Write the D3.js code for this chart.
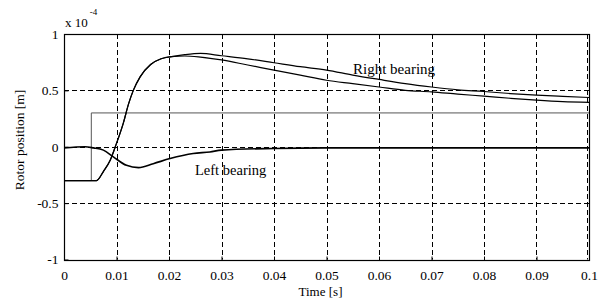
<!DOCTYPE html>
<html>
<head>
<meta charset="utf-8">
<script src="https://cdn.jsdelivr.net/npm/d3@7"></script>
<style>
  body { margin: 0; background: #fff; }
  svg text { font-family: "Liberation Serif", "Times New Roman", serif; fill: #000; }
</style>
</head>
<body>
<div id="chart"></div>
<script>
// time samples [s] and rotor positions [x 1e-4 m]
const rightTime = [0, 0.005, 0.0062, 0.0075, 0.0088, 0.010, 0.0113, 0.0123, 0.0132, 0.0145, 0.0165, 0.0185, 0.0205,
  0.023, 0.026, 0.03, 0.035, 0.04, 0.045, 0.05, 0.055, 0.06, 0.065, 0.07, 0.075, 0.08, 0.085, 0.09, 0.095, 0.1];
const rightUpper = [-0.3, -0.3, -0.3, -0.22, -0.12, 0.03, 0.21, 0.38, 0.50, 0.62, 0.73, 0.78, 0.80,
  0.817, 0.828, 0.807, 0.78, 0.745, 0.71, 0.68, 0.636, 0.597, 0.56, 0.53, 0.505, 0.49, 0.472, 0.458, 0.447, 0.437];
const rightLower = [-0.3, -0.3, -0.3, -0.22, -0.12, 0.03, 0.21, 0.38, 0.50, 0.62, 0.73, 0.78, 0.80,
  0.805, 0.795, 0.77, 0.725, 0.68, 0.635, 0.59, 0.56, 0.53, 0.50, 0.487, 0.467, 0.449, 0.43, 0.413, 0.40, 0.394];

const leftTime = [0, 0.004, 0.0056, 0.0075, 0.0094, 0.0119, 0.0142, 0.017, 0.0202, 0.0246, 0.0278, 0.03, 0.04, 0.05, 0.07, 0.1];
const leftPos = [-0.01, 0.0, -0.01, -0.03, -0.09, -0.165, -0.185, -0.15, -0.105, -0.06, -0.046, -0.03, -0.015, -0.01, -0.01, -0.01];

const stepTime = [0, 0.0052, 0.0052, 0.1];
const stepPos = [-0.3, -0.3, 0.3, 0.3];

const xTicks = [0, 0.01, 0.02, 0.03, 0.04, 0.05, 0.06, 0.07, 0.08, 0.09, 0.1];
const yTicks = [-1, -0.5, 0, 0.5, 1];

const width = 607, height = 304;
const margin = { left: 64, right: 18, top: 34, bottom: 44.5 };

const svg = d3.select("#chart").append("svg")
  .attr("width", width)
  .attr("height", height);

const x = d3.scaleLinear().domain([0, 0.1]).range([margin.left, width - margin.right]);
const y = d3.scaleLinear().domain([-1, 1]).range([height - margin.bottom, margin.top]);
const px = v => Math.round(v) + 0.5;

// grid lines (drawn at every tick, like matlab)
const grid = svg.append("g")
  .attr("stroke", "#000")
  .attr("stroke-width", 1)
  .attr("stroke-dasharray", "5,3");
grid.selectAll(".gx")
  .data(xTicks.slice(1))
  .join("line")
  .attr("x1", d => px(x(d)) - (d === 0.1 ? 2 : 0)).attr("x2", d => px(x(d)) - (d === 0.1 ? 2 : 0))
  .attr("y1", y(1)).attr("y2", y(-1));
grid.selectAll(".gy")
  .data(yTicks.slice(1))
  .join("line")
  .attr("y1", d => px(y(d))).attr("y2", d => px(y(d)))
  .attr("x1", x(0)).attr("x2", x(0.1));

// series
const line = d3.line().x(d => x(d[0])).y(d => y(d[1]));
const smooth = d3.line().x(d => x(d[0])).y(d => y(d[1])).curve(d3.curveMonotoneX);

svg.append("path")
  .attr("d", line(d3.zip(stepTime, stepPos)))
  .attr("fill", "none").attr("stroke", "#555").attr("stroke-width", 1);

svg.append("path")
  .attr("d", smooth(d3.zip(leftTime, leftPos)))
  .attr("fill", "none").attr("stroke", "#000").attr("stroke-width", 1.6);

svg.append("path")
  .attr("d", smooth(d3.zip(rightTime, rightLower)))
  .attr("fill", "none").attr("stroke", "#000").attr("stroke-width", 1.2);

svg.append("path")
  .attr("d", smooth(d3.zip(rightTime, rightUpper)))
  .attr("fill", "none").attr("stroke", "#000").attr("stroke-width", 1.2);

// axes box with inward ticks
const fmt = d => String(d);
const xAxis = svg.append("g")
  .attr("transform", `translate(0,${px(y(-1))})`)
  .call(d3.axisBottom(x).tickValues(xTicks).tickSizeInner(-4).tickSizeOuter(0).tickPadding(10).tickFormat(fmt));
const yAxis = svg.append("g")
  .attr("transform", `translate(${px(x(0))},0)`)
  .call(d3.axisLeft(y).tickValues(yTicks).tickSizeInner(-4).tickSizeOuter(0).tickPadding(6).tickFormat(fmt));
[xAxis, yAxis].forEach(a => {
  a.select(".domain").remove();
  a.selectAll("line").attr("stroke", "#000");
  a.selectAll("text").attr("font-size", 13.5).attr("font-family", "Liberation Serif, serif");
});

svg.append("rect")
  .attr("x", px(x(0))).attr("y", px(y(1)))
  .attr("width", Math.round(x(0.1) - x(0))).attr("height", Math.round(y(-1) - y(1)))
  .attr("fill", "none").attr("stroke", "#000").attr("stroke-width", 1.2);

// labels
svg.append("text")
  .attr("x", (x(0) + x(0.1)) / 2 - 6).attr("y", 296)
  .attr("text-anchor", "middle").attr("font-size", 13)
  .text("Time [s]");

svg.append("text")
  .attr("transform", "translate(24,140) rotate(-90)")
  .attr("text-anchor", "middle").attr("font-size", 13.5)
  .text("Rotor position [m]");

const expo = svg.append("text").attr("x", 65).attr("y", 27).attr("font-size", 13);
expo.append("tspan").text("x 10");
expo.append("tspan").attr("dx", 2).attr("dy", -12).attr("font-size", 9).text("-4");

svg.append("text")
  .attr("x", 353).attr("y", 74).attr("font-size", 15)
  .text("Right bearing");

svg.append("text")
  .attr("x", 195).attr("y", 175).attr("font-size", 14.5)
  .text("Left bearing");
</script>
</body>
</html>
